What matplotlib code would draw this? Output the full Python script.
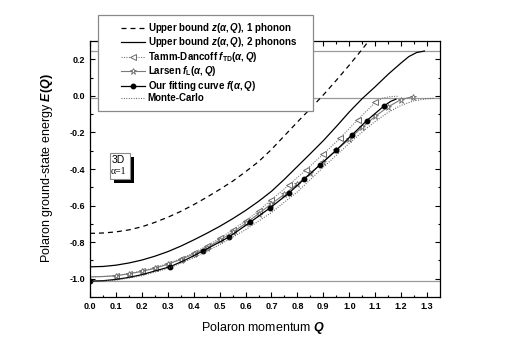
import matplotlib
matplotlib.use('Agg')
import matplotlib.pyplot as plt
import numpy as np
from matplotlib.patches import Rectangle
import matplotlib.transforms as mtransforms

plt.rcParams['font.family'] = ['Liberation Sans', 'DejaVu Sans']
plt.rcParams['mathtext.fontset'] = 'custom'
plt.rcParams['mathtext.rm'] = 'Liberation Sans:bold'
plt.rcParams['mathtext.it'] = 'Liberation Sans:italic:bold'
plt.rcParams['mathtext.bf'] = 'Liberation Sans:bold'

# ---------------- data ----------------
z1_q = [0, 0.05, 0.1, 0.15, 0.2, 0.25, 0.3, 0.35, 0.4, 0.45, 0.5, 0.55, 0.6, 0.65, 0.7, 0.75, 0.8, 0.85, 0.9, 0.95, 1.0, 1.05, 1.1]
z1_e = [-0.752, -0.750, -0.744, -0.733, -0.716, -0.692, -0.664, -0.632, -0.595, -0.555, -0.512, -0.467, -0.415, -0.360, -0.293, -0.218, -0.143, -0.070, 0.005, 0.085, 0.168, 0.255, 0.345]

z2_q = [0, 0.05, 0.1, 0.15, 0.2, 0.25, 0.3, 0.35, 0.4, 0.45, 0.5, 0.55, 0.6, 0.65, 0.7, 0.75, 0.8, 0.85, 0.9, 0.95, 1.0, 1.05, 1.1, 1.15, 1.2, 1.23, 1.26, 1.29]
z2_e = [-0.935, -0.933, -0.926, -0.914, -0.898, -0.877, -0.852, -0.822, -0.788, -0.752, -0.714, -0.672, -0.627, -0.577, -0.522, -0.456, -0.386, -0.316, -0.245, -0.168, -0.088, -0.015, 0.050, 0.118, 0.180, 0.215, 0.237, 0.245]

td_q = [0, 0.05, 0.1, 0.15, 0.2, 0.25, 0.3, 0.35, 0.4, 0.45, 0.5, 0.55, 0.6, 0.65, 0.7, 0.769, 0.833, 0.9, 0.965, 1.032, 1.1, 1.13, 1.16, 1.19]
td_e = [-0.990, -0.988, -0.983, -0.972, -0.958, -0.940, -0.917, -0.890, -0.858, -0.821, -0.780, -0.733, -0.683, -0.630, -0.568, -0.485, -0.405, -0.318, -0.231, -0.131, -0.036, -0.012, -0.004, -0.002]
td_marks = [0.1, 0.15, 0.2, 0.25, 0.3, 0.35, 0.4, 0.45, 0.5, 0.55, 0.6, 0.65, 0.7, 0.769, 0.833, 0.9, 0.965, 1.032, 1.1]

la_q = [0, 0.05, 0.1, 0.15, 0.2, 0.25, 0.3, 0.35, 0.4, 0.45, 0.5, 0.55, 0.6, 0.65, 0.7, 0.75, 0.8, 0.85, 0.9, 0.95, 1.0, 1.05, 1.1, 1.15, 1.2, 1.246]
la_e = [-0.990, -0.988, -0.984, -0.973, -0.960, -0.943, -0.921, -0.895, -0.865, -0.830, -0.790, -0.746, -0.698, -0.645, -0.590, -0.538, -0.482, -0.424, -0.362, -0.298, -0.236, -0.172, -0.112, -0.060, -0.020, -0.004]
la_marks = [0.1, 0.15, 0.2, 0.25, 0.3, 0.35, 0.4, 0.45, 0.5, 0.55, 0.6, 0.65, 0.7, 0.75, 0.8, 0.85, 0.9, 0.95, 1.0, 1.05, 1.1, 1.15, 1.2, 1.246]

fit_q = [0, 0.05, 0.1, 0.15, 0.2, 0.25, 0.31, 0.37, 0.436, 0.536, 0.619, 0.695, 0.767, 0.827, 0.888, 0.949, 1.009, 1.067, 1.135, 1.16, 1.18]
fit_e = [-1.013, -1.011, -1.004, -0.993, -0.978, -0.958, -0.934, -0.896, -0.848, -0.772, -0.690, -0.612, -0.532, -0.454, -0.376, -0.298, -0.216, -0.136, -0.054, -0.030, -0.018]
fit_marks = [0, 0.31, 0.436, 0.536, 0.619, 0.695, 0.767, 0.827, 0.888, 0.949, 1.009, 1.067, 1.135]

mc_q = [0, 0.1, 0.2, 0.3, 0.4, 0.5, 0.6, 0.7, 0.8, 0.9, 0.95, 1.0, 1.05, 1.1, 1.15, 1.2, 1.25, 1.3, 1.33]
mc_e = [-1.015, -1.008, -0.984, -0.944, -0.886, -0.814, -0.732, -0.638, -0.525, -0.390, -0.325, -0.260, -0.197, -0.140, -0.090, -0.052, -0.027, -0.016, -0.013]

ref_levels = [-1.013, -0.013, 0.245]

xticks = [0.0, 0.1, 0.2, 0.3, 0.4, 0.5, 0.6, 0.7, 0.8, 0.9, 1.0, 1.1, 1.2, 1.3]
yticks = [-1.0, -0.8, -0.6, -0.4, -0.2, 0.0, 0.2]

labels = [r"Upper bound $z(\alpha,Q)$, 1 phonon",
          r"Upper bound $z(\alpha,Q)$, 2 phonons",
          r"Tamm-Dancoff $f_{\mathrm{TD}}(\alpha,Q)$",
          r"Larsen $f_{\mathrm{L}}(\alpha,Q)$",
          r"Our fitting curve $f(\alpha,Q)$",
          "Monte-Carlo"]


def mark_idx(q, marks):
    return [i for i, v in enumerate(q) if any(abs(v - m) < 1e-9 for m in marks)]


W, H = 512, 358
fig = plt.figure(figsize=(W / 100, H / 100), dpi=100)
px = mtransforms.Affine2D().scale(1 / W, -1 / H).translate(0, 1) + fig.transFigure
ax = fig.add_axes([90 / W, 1 - 297 / H, 350 / W, 256 / H])

for lv in ref_levels:
    ax.axhline(lv, color='#9a9a9a', lw=0.9, zorder=1)

h1, = ax.plot(z1_q, z1_e, color='black', lw=0.9, ls=(0, (4, 3.2)), label=labels[0])
h2, = ax.plot(z2_q, z2_e, color='black', lw=0.9, label=labels[1])
h3, = ax.plot(td_q, td_e, color='#7a7a7a', lw=0.8, ls=(0, (1, 1.2)), marker='<', ms=4.2,
              mfc='white', mec='#6a6a6a', mew=0.7, markevery=mark_idx(td_q, td_marks), label=labels[2])
h4, = ax.plot(la_q, la_e, color='#7a7a7a', lw=0.8, marker='*', ms=5, mfc='white',
              mec='#6a6a6a', mew=0.6, markevery=mark_idx(la_q, la_marks), label=labels[3])
h5, = ax.plot(fit_q, fit_e, color='black', lw=0.9, marker='o', ms=3.2, mfc='black', mec='black',
              markevery=mark_idx(fit_q, fit_marks), label=labels[4])
h6, = ax.plot(mc_q, mc_e, color='#555555', lw=0.8, ls=(0, (0.8, 1.4)), label=labels[5])

ax.set_xlim(0, 1.35)
ax.set_ylim(-1.1, 0.3)
ax.set_xticks(xticks, [f"{v:.1f}" for v in xticks], fontweight='bold', fontsize=6.5)
ax.set_yticks(yticks, [f"{v:.1f}".replace('-0.0', '0.0') for v in yticks], fontweight='bold', fontsize=6.5)
ax.set_xticks(np.arange(0.05, 1.35, 0.1), minor=True)
ax.set_yticks(np.arange(-1.1, 0.3, 0.2), minor=True)
ax.tick_params(which='both', direction='in', top=True, right=True, width=0.8)
ax.tick_params(which='major', length=3.6, pad=3.5)
ax.tick_params(which='minor', length=1.8)
for s in ax.spines.values():
    s.set_linewidth(0.9)

fig.text(263, 328, r"Polaron momentum $Q$", transform=px, ha='center', va='center', fontsize=9)
fig.text(47, 168, r"Polaron ground-state energy $E(Q)$", transform=px, ha='center', va='center',
         fontsize=9, rotation=90)

# legend frame + legend
fig.add_artist(Rectangle((98, 15), 215, 96, transform=px, facecolor='white', edgecolor='#8a8a8a',
                         lw=0.9, zorder=5))
leg = fig.legend(handles=[h1, h2, h3, h4, h5, h6], loc='upper left',
                 bbox_to_anchor=(121 / W, 1 - 21 / H), bbox_transform=fig.transFigure,
                 frameon=False, borderpad=0, borderaxespad=0, handlelength=2.5, handletextpad=0.25,
                 labelspacing=0.05, numpoints=1, prop={'weight': 'bold', 'size': 7})
leg.set_zorder(10)

# inset label box with shadow
fig.add_artist(Rectangle((113.5, 156.5), 20, 26, transform=px, facecolor='black', edgecolor='black',
                         lw=0, zorder=5))
fig.add_artist(Rectangle((110, 153), 20, 26, transform=px, facecolor='white', edgecolor='#8a8a8a',
                         lw=0.8, zorder=6))
fig.text(111.5, 160, "3D", transform=px, ha='left', va='center', fontsize=7.5, zorder=7)
fig.text(111, 172, "α=1", transform=px, ha='left', va='center', fontsize=7,
         family=['Liberation Serif', 'DejaVu Serif'], zorder=7)

fig.savefig('out.png', dpi=100)
